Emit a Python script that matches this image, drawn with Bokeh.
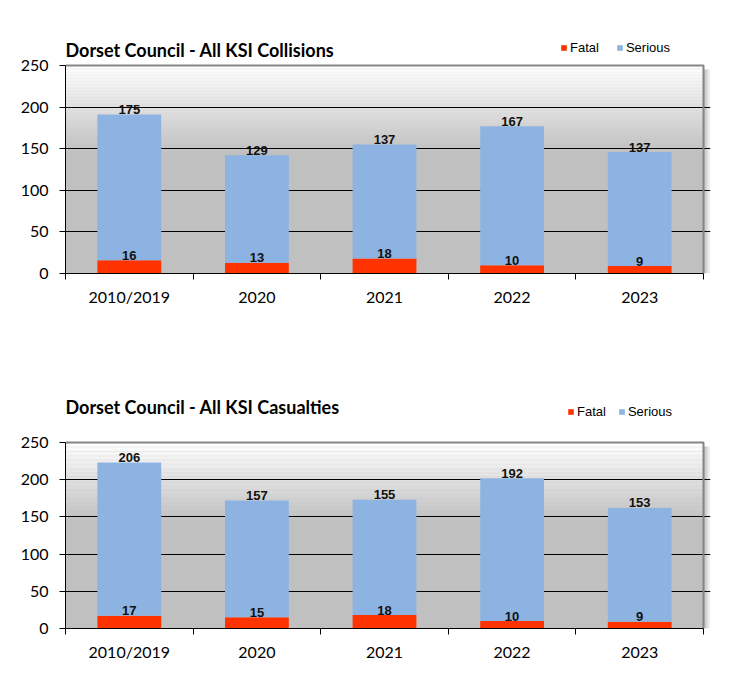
from bokeh.plotting import figure
from bokeh.models import (ColumnDataSource, Range1d, FixedTicker, Label, Legend, LegendItem)
from bokeh.layouts import column
from bokeh.core.properties import value
from bokeh.embed import file_html
from bokeh.resources import INLINE

categories = ["2010/2019", "2020", "2021", "2022", "2023"]
collisions_fatal = [16, 13, 18, 10, 9]
collisions_serious = [175, 129, 137, 167, 137]
casualties_fatal = [17, 15, 18, 10, 9]
casualties_serious = [206, 157, 155, 192, 153]
y_ticks = [0, 50, 100, 150, 200, 250]

FATAL_COLOR = "#FF3300"
SERIOUS_COLOR = "#8DB3E2"
GRAY = "#C0C0C0"
PLOT_W = 638
SHADOW_PX = 7


def lerp_color(c1, c2, t):
    a = [int(c1[i:i + 2], 16) for i in (1, 3, 5)]
    b = [int(c2[i:i + 2], 16) for i in (1, 3, 5)]
    return "#%02x%02x%02x" % tuple(round(a[i] + (b[i] - a[i]) * t) for i in range(3))


def make_chart(title, fatal, serious, plot_h, head_h, top_border, bottom_border,
               title_y, legend_x, legend_y, legend_spacing):
    n = len(categories)
    ymax = y_ticks[-1]
    frame_h = plot_h + head_h
    y_end = ymax * frame_h / plot_h
    frame_w = PLOT_W + SHADOW_PX
    x_end = n * frame_w / PLOT_W
    p = figure(frame_width=frame_w, frame_height=frame_h,
               min_border_left=65, min_border_right=35 - SHADOW_PX,
               min_border_top=top_border, min_border_bottom=bottom_border,
               x_range=Range1d(0, x_end), y_range=Range1d(0, y_end),
               output_backend="svg", toolbar_location=None,
               background_fill_color="white", border_fill_color="white")
    p.outline_line_color = None

    # soft shadow on the right of the plot area
    upx = n / PLOT_W
    vpx = ymax / plot_h
    for j in range(SHADOW_PX):
        p.quad(left=n + j * upx, right=n + (j + 1) * upx, bottom=0, top=ymax - 4 * vpx,
               fill_color=lerp_color("#9a9a9a", "#FFFFFF", (j + 1) / (SHADOW_PX + 1)),
               line_color=None, level="image")

    # plot-area background: grey with a gradient towards white at the top
    p.quad(left=0, right=n, bottom=0, top=ymax, fill_color=GRAY, line_color=None, level="image")
    g_lo, steps = 145.0, 60
    dy = (ymax - g_lo) / steps
    bl, tp, cols = [], [], []
    for k in range(steps):
        bl.append(g_lo + k * dy)
        tp.append(min(g_lo + (k + 1) * dy + 0.3, ymax))
        cols.append(lerp_color(GRAY, "#FFFFFF", (k + 0.5) / steps))
    p.quad(left=0, right=n, bottom=bl, top=tp, fill_color=cols, line_color=None, level="image")

    xs = [i + 0.5 for i in range(n)]
    totals = [f + s for f, s in zip(fatal, serious)]
    src = ColumnDataSource(dict(x=xs, fatal=fatal, serious=serious, total=totals,
                                ftxt=[str(v) for v in fatal], stxt=[str(v) for v in serious]))
    r_f = p.vbar(x="x", width=0.5, bottom=0, top="fatal", source=src,
                 fill_color=FATAL_COLOR, line_color=None)
    r_s = p.vbar(x="x", width=0.5, bottom="fatal", top="total", source=src,
                 fill_color=SERIOUS_COLOR, line_color=None)

    lab = dict(text_align="center", text_baseline="middle",
               text_font=value("Liberation Sans"), text_font_style="bold",
               text_font_size="13px", text_color="#111111", source=src)
    p.text(x="x", y="total", text="stxt", y_offset=-5, **lab)
    p.text(x="x", y="fatal", text="ftxt", y_offset=-5, **lab)

    # plot-area border (top and right), grey
    p.line(x=[0, n, n], y=[ymax, ymax, 0], line_color="#858585", line_width=2)

    # grid
    p.xgrid.grid_line_color = None
    p.ygrid.ticker = FixedTicker(ticks=y_ticks[1:-1])
    p.ygrid.grid_line_color = "black"
    p.ygrid.grid_line_width = 1
    p.ygrid.bounds = (0, n)

    # y axis
    ya = p.yaxis[0]
    ya.ticker = FixedTicker(ticks=y_ticks)
    ya.bounds = (0, ymax)
    ya.axis_line_color = "black"
    ya.major_tick_line_color = "black"
    ya.major_tick_out = 6
    ya.major_tick_in = 0
    ya.minor_tick_line_color = None
    ya.major_label_standoff = 11
    ya.major_label_text_font = "Lato"
    ya.major_label_text_font_size = "16px"
    ya.major_label_text_color = "black"

    # x axis
    xa = p.xaxis[0]
    xa.ticker = FixedTicker(ticks=xs, minor_ticks=list(range(n + 1)))
    xa.bounds = (0, n)
    xa.major_label_overrides = {x: c for x, c in zip(xs, categories)}
    xa.axis_line_color = "black"
    xa.major_tick_out = 0
    xa.major_tick_in = 0
    xa.minor_tick_out = 6
    xa.minor_tick_in = 0
    xa.minor_tick_line_color = "black"
    xa.major_label_standoff = 7
    xa.major_label_text_font = "Lato"
    xa.major_label_text_font_size = "16px"
    xa.major_label_text_color = "black"

    # title
    p.add_layout(Label(x=0, y=title_y, x_units="screen", y_units="screen",
                       text=title, text_font="Lato", text_font_style="bold",
                       text_font_size="18px", text_baseline="middle",
                       text_color="black"))

    legend = Legend(items=[LegendItem(label="Fatal", renderers=[r_f]),
                           LegendItem(label="Serious", renderers=[r_s])],
                    location=(legend_x, legend_y), orientation="horizontal",
                    glyph_width=7, glyph_height=7, label_standoff=3,
                    spacing=legend_spacing, padding=0, margin=0,
                    label_height=16, label_text_font="Liberation Sans",
                    label_text_font_size="13px", label_text_color="black",
                    border_line_alpha=0, background_fill_alpha=0)
    p.add_layout(legend)
    return p


p1 = make_chart("Dorset Council - All KSI Collisions", collisions_fatal, collisions_serious,
                plot_h=208, head_h=35, top_border=30, bottom_border=75,
                title_y=224, legend_x=495, legend_y=218, legend_spacing=17)
p2 = make_chart("Dorset Council - All KSI Casualties", casualties_fatal, casualties_serious,
                plot_h=186, head_h=52, top_border=42, bottom_border=50,
                title_y=222, legend_x=502, legend_y=209, legend_spacing=12)

page = column(p1, p2, spacing=0)
open("out.html", "w").write(file_html(page, INLINE))
